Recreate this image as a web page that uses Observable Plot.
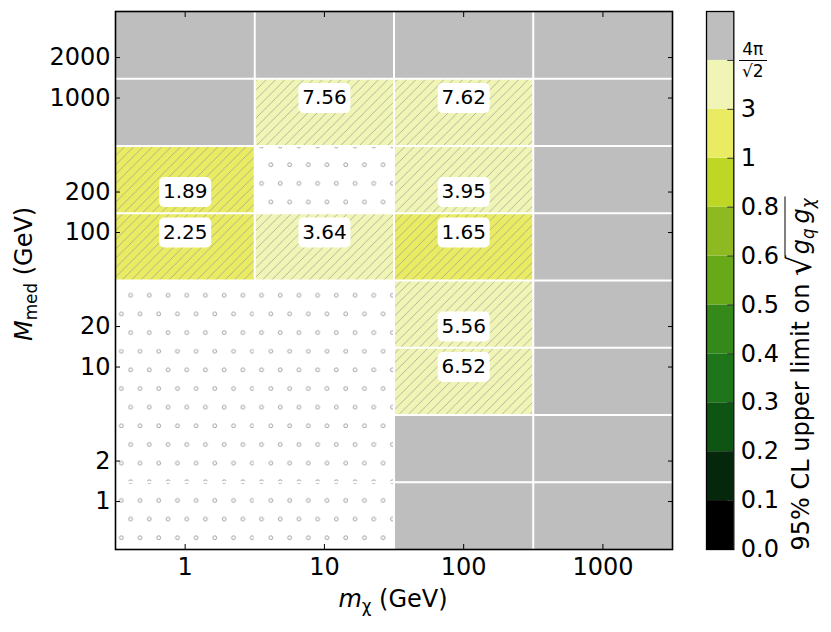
<!DOCTYPE html>
<html>
<head>
<meta charset="utf-8">
<script src="https://cdn.jsdelivr.net/npm/d3@7"></script>
<script src="https://cdn.jsdelivr.net/npm/@observablehq/plot@0.6"></script>
<style>
  body { margin: 0; background: #fff; font-family: "DejaVu Sans", sans-serif; }
  #wrap { position: relative; width: 831px; height: 632px; overflow: hidden; }
  .abs { position: absolute; white-space: nowrap; color: #000; font-family: "DejaVu Sans", sans-serif; }
  .rotl { transform-origin: 0 50%; transform: rotate(-90deg); font-size: 24px; line-height: 24px; }
  .it { font-style: italic; }
  .sub { font-size: 0.7em; position: relative; top: 0.3em; }
</style>
</head>
<body>
<svg width="0" height="0" style="position:absolute">
  <defs>
    <pattern id="hatch" patternUnits="userSpaceOnUse" width="9.35" height="9.35">
      <path d="M-1,1 L1,-1 M0,9.35 L9.35,0 M8.35,10.35 L10.35,8.35" stroke="#929292" stroke-width="0.65" fill="none"/>
    </pattern>
    <pattern id="dots" patternUnits="userSpaceOnUse" x="4.45" y="10.85" width="18.7" height="37.3">
      <circle cx="4.65" cy="4.65" r="1.9" fill="none" stroke="#8a8a8a" stroke-width="0.8"/>
      <circle cx="14" cy="23.3" r="1.9" fill="none" stroke="#8a8a8a" stroke-width="0.8"/>
    </pattern>
  </defs>
</svg>
<div id="wrap"></div>
<script>
// ---------- data ----------
const mchiTicks = [1, 10, 100, 1000];
const mmedTicks = [1, 2, 10, 20, 100, 200, 1000, 2000];
const mchiEdges = [0.316, 3.16, 31.6, 316, 3160];
const mmedEdges = [0.44, 1.39, 4.4, 13.9, 44, 139, 440, 1390, 4400];
// cell status, rows from low to high M_med, columns m_chi = 1, 10, 100, 1000
// "o" = not simulated (white, dotted), "g" = limit above 4π/√2 (grey), "v" = limit shown
const cellStatus = [
  ["o", "o", "g", "g"],
  ["o", "o", "g", "g"],
  ["o", "o", "v", "g"],
  ["o", "o", "v", "g"],
  ["v", "v", "v", "g"],
  ["v", "o", "v", "g"],
  ["g", "v", "v", "g"],
  ["g", "g", "g", "g"]
];
const pointMchi  = [1, 1, 10, 10, 100, 100, 100, 100, 100];
const pointMmed  = [100, 200, 100, 1000, 1000, 200, 100, 20, 10];
const pointLimit = [2.25, 1.89, 3.64, 7.56, 7.62, 3.95, 1.65, 5.56, 6.52];
const levelValues = [0, 0.1, 0.2, 0.3, 0.4, 0.5, 0.6, 0.8, 1, 3, 4 * Math.PI / Math.SQRT2];
const levelLabels = ["0.0", "0.1", "0.2", "0.3", "0.4", "0.5", "0.6", "0.8", "1", "3"];
const levelColors = ["#000000", "#05270b", "#0e5412", "#1f7519", "#35891a", "#68a91a",
                     "#8eb920", "#bed725", "#e9ec63", "#f0f5b5", "#bebebe"];

// ---------- build tables ----------
const points = pointMchi.map((x, i) => ({mchi: x, mmed: pointMmed[i], limit: pointLimit[i]}));
const cells = [];
cellStatus.forEach((row, r) => row.forEach((s, c) => {
  const x1 = mchiEdges[c], x2 = mchiEdges[c + 1], y1 = mmedEdges[r], y2 = mmedEdges[r + 1];
  const p = points.find(p => p.mchi > x1 && p.mchi < x2 && p.mmed > y1 && p.mmed < y2);
  cells.push({x1, x2, y1, y2, status: s, limit: p ? p.limit : null});
}));
const colorScale = {type: "threshold", domain: levelValues.slice(1), range: levelColors};
const greyColor = levelColors[levelColors.length - 1];

const roundedBox = {
  draw(ctx) {
    const w = 26, h = 15, r = 5;
    ctx.moveTo(-w + r, -h); ctx.lineTo(w - r, -h); ctx.arcTo(w, -h, w, -h + r, r);
    ctx.lineTo(w, h - r); ctx.arcTo(w, h, w - r, h, r);
    ctx.lineTo(-w + r, h); ctx.arcTo(-w, h, -w, h - r, r);
    ctx.lineTo(-w, -h + r); ctx.arcTo(-w, -h, -w + r, -h, r); ctx.closePath();
  }
};
const blank = () => "";
const pos = {x1: "x1", x2: "x2", y1: "y1", y2: "y2"};

// ---------- main chart ----------
const main = Plot.plot({
  width: 680, height: 632,
  marginLeft: 115, marginRight: 8, marginTop: 11, marginBottom: 83,
  x: {type: "log", domain: [mchiEdges[0], mchiEdges[mchiEdges.length - 1]]},
  y: {type: "log", domain: [mmedEdges[0], mmedEdges[mmedEdges.length - 1]]},
  color: colorScale,
  style: {fontFamily: "DejaVu Sans", fontSize: "24px", color: "black", background: "transparent"},
  marks: [
    Plot.rect(cells.filter(d => d.status === "g"), {...pos, fill: greyColor}),
    Plot.rect(cells.filter(d => d.status === "v"), {...pos, fill: "limit"}),
    Plot.rect(cells.filter(d => d.status === "v"), {...pos, fill: "url(#hatch)"}),
    Plot.rect(cells.filter(d => d.status === "o"), {...pos, fill: "url(#dots)"}),
    Plot.ruleX(mchiEdges.slice(1, -1), {stroke: "white", strokeWidth: 2}),
    Plot.ruleY(mmedEdges.slice(1, -1), {stroke: "white", strokeWidth: 2}),
    Plot.dot(points, {x: "mchi", y: "mmed", symbol: roundedBox, r: 5, fill: "white", stroke: "none"}),
    Plot.text(points, {x: "mchi", y: "mmed", text: d => d.limit.toFixed(2), fontSize: 20, fill: "black"}),
    Plot.frame({stroke: "black", strokeWidth: 1.6}),
    Plot.axisX(mchiTicks, {anchor: "bottom", tickSize: 0, tickPadding: 8, fontSize: 24, label: null, tickFormat: d => String(d)}),
    Plot.axisX(mchiTicks, {anchor: "bottom", tickSize: 5, dy: -5, tickFormat: blank, label: null}),
    Plot.axisX(mchiTicks, {anchor: "top", tickSize: 5, dy: 5, tickFormat: blank, label: null}),
    Plot.axisY(mmedTicks, {anchor: "left", tickSize: 0, tickPadding: 5, fontSize: 24, label: null, tickFormat: d => String(d)}),
    Plot.axisY(mmedTicks, {anchor: "left", tickSize: 5, dx: 5, tickFormat: blank, label: null}),
    Plot.axisY(mmedTicks, {anchor: "right", tickSize: 5, dx: -5, tickFormat: blank, label: null})
  ]
});
main.style.position = "absolute";
main.style.left = "0px";
main.style.top = "0px";

// ---------- colour bar ----------
const idx = d3.range(levelValues.length);
const cb = Plot.plot({
  width: 141, height: 632,
  marginLeft: 16, marginRight: 97.7, marginTop: 11, marginBottom: 83,
  x: {domain: [0, 1], axis: null},
  y: {domain: [0, levelValues.length], axis: null},
  color: colorScale,
  style: {fontFamily: "DejaVu Sans", fontSize: "24px", color: "black", background: "transparent"},
  marks: [
    Plot.rect(idx, {x1: () => 0, x2: () => 1, y1: i => i, y2: i => i + 1, fill: i => levelValues[i]}),
    Plot.ruleY(idx.slice(1), {x1: () => 0.78, x2: () => 1, stroke: "#333", strokeWidth: 1}),
    Plot.frame({stroke: "black", strokeWidth: 1.3}),
    Plot.axisY(idx.slice(0, levelLabels.length), {anchor: "right", tickSize: 0, tickPadding: 7, fontSize: 24, label: null,
      tickFormat: i => levelLabels[i]})
  ]
});
cb.style.position = "absolute";
cb.style.left = "690px";
cb.style.top = "0px";

const wrap = document.getElementById("wrap");
wrap.appendChild(main);
wrap.appendChild(cb);

// ---------- labels ----------
wrap.insertAdjacentHTML("beforeend", `
  <div class="abs" style="left:393px; top:600px; transform:translate(-50%,-50%); font-size:24px; line-height:24px;">
    <span class="it">m</span><span class="sub">χ</span> (GeV)</div>
  <div class="abs rotl" style="left:25px; top:328px;">
    <span class="it">M</span><span class="sub">med</span> (GeV)</div>
  <div class="abs rotl" style="left:800px; top:536px;">
    95% CL upper limit on <span style="font-size:1.35em; position:relative; top:0.06em;">√</span><span style="border-top:1.6px solid #000; padding:1px 2px 0 1px;"><span class="it">g</span><span class="sub it">q</span>&thinsp;<span class="it">g</span><span class="sub it">χ</span></span></div>
  <div class="abs" style="left:739px; top:60px; transform:translateY(-50%); display:flex; flex-direction:column; align-items:center; font-size:17px; line-height:18px;">
    <span style="padding:0 2px 2px;">4π</span>
    <span style="border-top:1.4px solid #000; padding:1px 3px 0;">√<span style="border-top:1px solid #000;">2</span></span>
  </div>
`);
</script>
</body>
</html>
